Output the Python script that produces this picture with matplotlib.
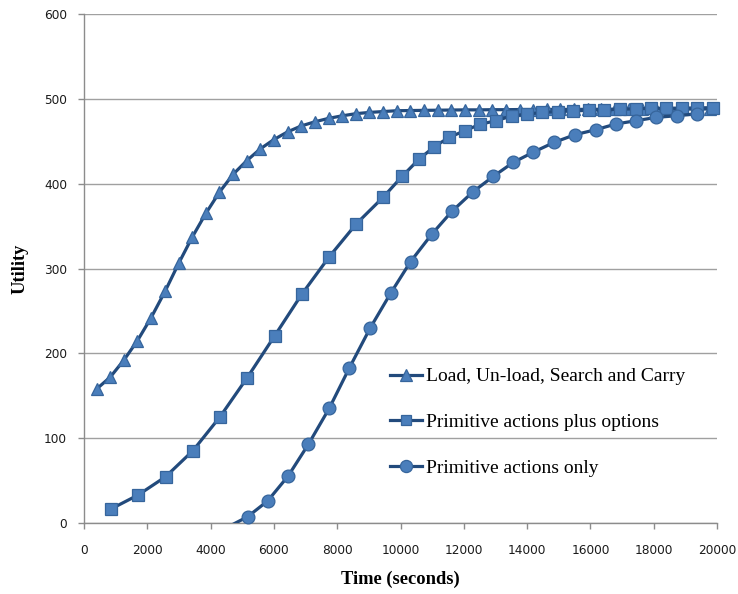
import matplotlib
matplotlib.use("Agg")
import matplotlib.pyplot as plt
from matplotlib.lines import Line2D
import numpy as np

# ---- data ----
labels = ["Load, Un-load, Search and Carry",
          "Primitive actions plus options",
          "Primitive actions only"]

t_load = [400, 830, 1260, 1690, 2120, 2560, 2990, 3420, 3850, 4280, 4710, 5140,
          5570, 6000, 6430, 6860, 7300, 7730, 8160, 8590, 9020, 9450, 9880,
          10310, 10740, 11170, 11600, 12040, 12470, 12900, 13330, 13760, 14190,
          14620, 15050, 15480, 15910, 16340, 16780, 17210, 17640, 18070, 18500,
          18930, 19360, 19790]
u_load = [158, 172, 192, 215, 242, 273, 306, 337, 365, 390, 411, 427,
          441, 452, 461, 468, 473, 477, 480, 482.5, 484, 485, 486,
          486.2, 486.4, 486.6, 486.8, 487, 487, 487.2, 487.2, 487.4, 487.4,
          487.5, 487.5, 487.6, 487.6, 487.7, 487.7, 487.8, 487.8, 487.8, 487.9,
          487.9, 488, 488]

t_opt = [850, 1710, 2580, 3440, 4300, 5160, 6020, 6880, 7750, 8600, 9460,
         10050, 10580, 11070, 11540, 12040, 12510, 13020, 13510, 14000, 14480,
         14990, 15460, 15960, 16440, 16940, 17430, 17920, 18390, 18890, 19360,
         19880]
u_opt = [16.5, 33, 54.6, 85.2, 125.3, 171.5, 220.4, 269.6, 313.9, 352.5, 384.3,
         408.6, 428.7, 443.6, 454.7, 462.5, 470, 474.2, 479.8, 482, 484,
         485, 485.7, 486.5, 487.2, 487.7, 488.3, 488.7, 489, 489, 489.3,
         489.6]

t_prim = [4530, 5170, 5800, 6450, 7090, 7750, 8380, 9040, 9690, 10320, 10990,
          11620, 12280, 12930, 13560, 14200, 14850, 15510, 16170, 16800, 17440,
          18070, 18730, 19380]
u_prim = [-5, 7.4, 25.9, 55.4, 92.8, 135.3, 182.5, 229.7, 270.9, 308.2, 340.5,
          367.2, 390.1, 408.5, 425, 437.2, 448.6, 457.7, 463.6, 470.3, 474.2,
          478.1, 480.1, 482.4]

x_ticks = [0, 2000, 4000, 6000, 8000, 10000, 12000, 14000, 16000, 18000, 20000]
y_ticks = [0, 100, 200, 300, 400, 500, 600]

# ---- style ----
LINE = "#224a7c"
FILL = "#4a7ebb"
EDGE = "#36659c"
GRID = "#a0a0a0"
AXC = "#8c8c8c"

fig = plt.figure(figsize=(7.38, 5.94), dpi=100)
ax = fig.add_axes([84 / 738, 1 - 523 / 594, 633 / 738, 509 / 594])

series = [(t_load, u_load, "^", 8.5),
          (t_opt, u_opt, "s", 8.0),
          (t_prim, u_prim, "o", 9.2)]

handles = []
for i, (tx, uy, mk, ms) in enumerate(series):
    tx = np.asarray(tx, float)
    uy = np.asarray(uy, float)
    z = 3 + i
    ax.plot(tx, uy, color=LINE, lw=2.3, zorder=z, solid_capstyle="round")
    m = uy >= 0
    ax.plot(tx[m], uy[m], ls="none", marker=mk, ms=ms, mfc=FILL, mec=EDGE,
            mew=0.9, zorder=z, clip_on=False)
    handles.append(Line2D([], [], color=LINE, lw=2.3, marker=mk, ms=ms * 0.95,
                          mfc=FILL, mec=EDGE, mew=0.9))

ax.set_xlim(0, 20000)
ax.set_ylim(0, 600)
ax.set_xticks(x_ticks)
ax.set_yticks(y_ticks)
ax.set_xticklabels([str(v) for v in x_ticks])
ax.set_yticklabels([str(v) for v in y_ticks])

ax.yaxis.grid(True, color=GRID, lw=1.0)
ax.set_axisbelow(True)
for s in ["top", "right"]:
    ax.spines[s].set_visible(False)
for s in ["left", "bottom"]:
    ax.spines[s].set_color(AXC)
    ax.spines[s].set_linewidth(1.0)
    ax.spines[s].set_zorder(2)

ax.tick_params(axis="both", direction="out", length=4.3, width=1.0,
               color=AXC, labelsize=8.7, labelcolor="#1a1a1a")
ax.tick_params(axis="x", pad=11)
ax.tick_params(axis="y", pad=8)
for lab in ax.get_xticklabels() + ax.get_yticklabels():
    lab.set_family("DejaVu Sans")

ax.set_xlabel("Time (seconds)", family="Liberation Serif", fontweight="bold",
              fontsize=13.3, labelpad=10)
ax.set_ylabel("Utility", family="Liberation Serif", fontweight="bold",
              fontsize=13.3, labelpad=11)

leg = ax.legend(handles, labels, loc="upper left",
                bbox_to_anchor=(0.483, 0.305), frameon=False,
                prop={"family": "Liberation Serif", "size": 14},
                handlelength=1.65, handletextpad=0.2, labelspacing=1.45,
                borderpad=0, borderaxespad=0, numpoints=1)

fig.savefig("out.png", dpi=100)
